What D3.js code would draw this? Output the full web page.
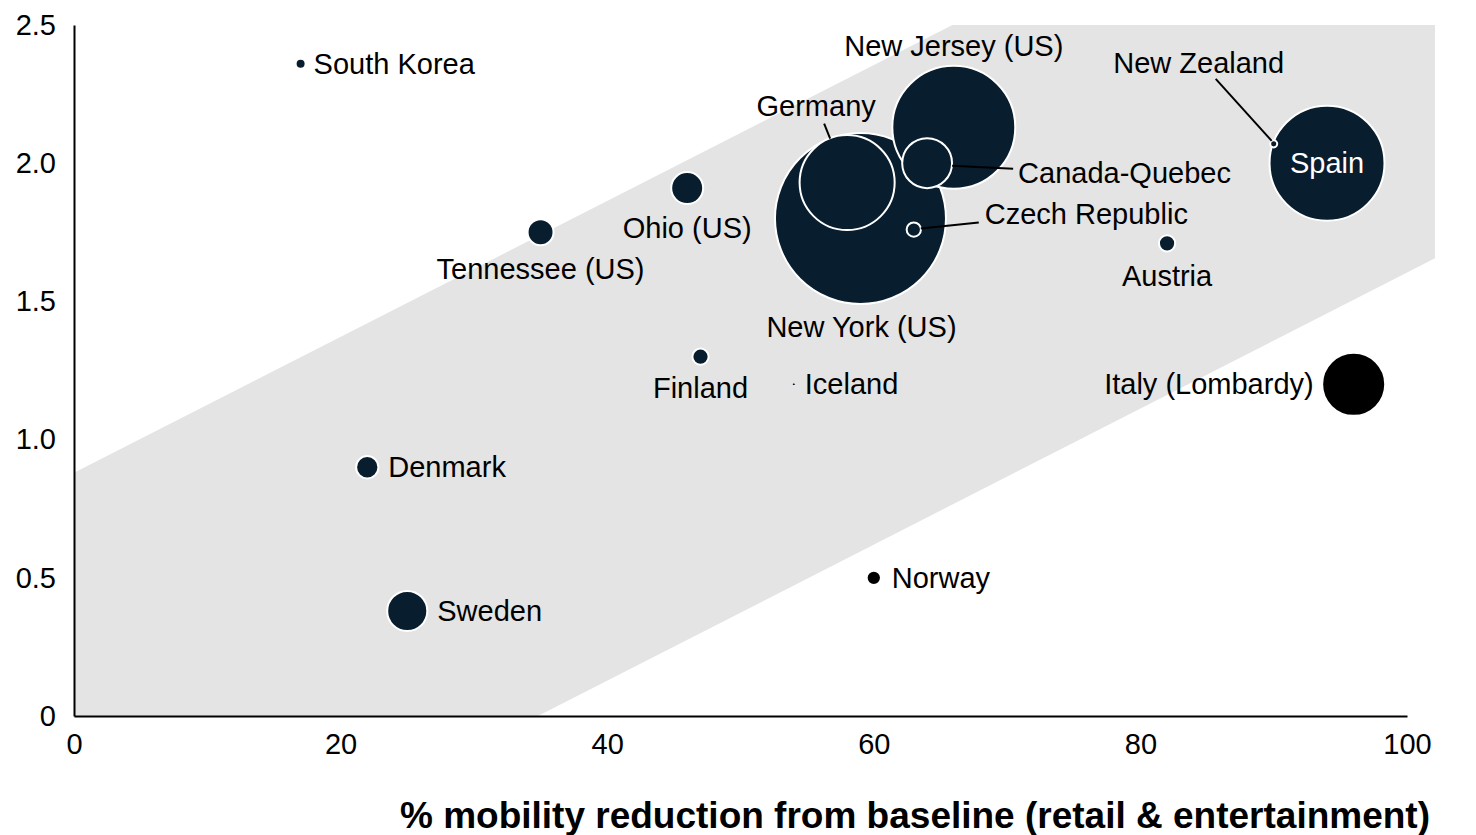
<!DOCTYPE html>
<html>
<head>
<meta charset="utf-8" />
<title></title>
<style>
html, body {
    padding: 0px;
    margin: 0px;
    background: #fff;
}
svg text {
    font-family: "Liberation Sans", Arial, sans-serif;
}
</style>
</head>
<body>
<svg id="chart" width="1476" height="835"></svg>

<script src="https://cdnjs.cloudflare.com/ajax/libs/d3/7.8.5/d3.min.js"></script>
<script>
!(function(){
    "use strict";

    // data
    var names = ["New York (US)", "New Jersey (US)", "Spain", "Germany", "Italy (Lombardy)",
        "Canada-Quebec", "Sweden", "Ohio (US)", "Tennessee (US)", "Denmark", "Finland",
        "Austria", "Norway", "Czech Republic", "South Korea", "New Zealand", "Iceland"];
    var mobility = [59, 66, 94, 58, 96, 64, 25, 46, 35, 22, 47, 82, 60, 63, 17, 90, 54];
    var rt = [1.80, 2.13, 2.00, 1.93, 1.20, 2.00, 0.38, 1.91, 1.75, 0.90, 1.30, 1.71, 0.50, 1.76, 2.36, 2.07, 1.20];
    var size = [1000, 517, 452, 309, 136, 85, 55, 35, 23, 17, 9, 9, 7, 7, 3.4, 1.7, 0.3];
    var xTicks = [0, 20, 40, 60, 80, 100];
    var yTicks = [0, 0.5, 1.0, 1.5, 2.0, 2.5];
    var yTickLabels = ["0", "0.5", "1.0", "1.5", "2.0", "2.5"];
    // shaded band corners (x, y)
    var bandX = [0, 0, 65.9, 102.1, 102.1, 34.8];
    var bandY = [0, 0.88, 2.5, 2.5, 1.656, 0];
    var xTitle = "% mobility reduction from baseline (retail & entertainment)";

    // label placement: [anchor, dx, dy, leader]
    var place = {
        "South Korea": ["start", 13, 0],
        "Tennessee (US)": ["middle", 0, 37],
        "Ohio (US)": ["middle", 0, 40],
        "Finland": ["middle", 0, 31],
        "Iceland": ["start", 11, 0],
        "Denmark": ["start", 21, 0],
        "Sweden": ["start", 30, 0],
        "Norway": ["start", 18, 0],
        "New York (US)": ["middle", 1, 108],
        "Germany": ["middle", -31, -77, [-17, -44, -23, -59]],
        "New Jersey (US)": ["middle", 0, -81],
        "Canada-Quebec": ["start", 91, 10, [25, 2.5, 86, 5.5]],
        "Czech Republic": ["start", 71, -16, [7, -1, 65, -7]],
        "New Zealand": ["middle", -75, -81, [-2, -3, -58, -65]],
        "Austria": ["middle", 0, 32],
        "Italy (Lombardy)": ["end", -40, 0],
        "Spain": ["middle", 0, 0]
    };

    var navy = "#081d2d";
    var labelSize = 29;

    var svg = d3.select("#chart");

    var x = d3.scaleLinear().domain([0, 100]).range([74, 1407]);
    var y = d3.scaleLinear().domain([0, 2.5]).range([716, 25]);
    var r = d3.scaleSqrt().domain([0, 1000]).range([0, 85.5]);

    var data = names.map(function(n, i) {
        return {name: n, x: mobility[i], y: rt[i], s: size[i]};
    });

    // band
    var band = bandX.map(function(v, i) { return [x(v), y(bandY[i])]; });
    svg.append("path")
        .attr("d", d3.line()(band) + "Z")
        .attr("fill", "#e4e4e4");

    // axes
    var xAxis = d3.axisBottom(x).tickValues(xTicks).tickSize(0).tickPadding(17);
    var yAxis = d3.axisLeft(y).tickValues(yTicks).tickSize(0).tickPadding(18)
        .tickFormat(function(d, i) { return yTickLabels[i]; });

    var gx = svg.append("g").attr("transform", "translate(0," + y(0) + ")").call(xAxis);
    var gy = svg.append("g").attr("transform", "translate(" + x(0) + ",0)").call(yAxis);

    [gx, gy].forEach(function(g) {
        g.select(".domain").attr("stroke", "#000").attr("stroke-width", 2);
        g.selectAll("text")
            .attr("font-family", "Liberation Sans, Arial, sans-serif")
            .attr("font-size", 29)
            .attr("fill", "#000");
    });
    gx.selectAll("text").attr("dy", "0.71em");

    svg.append("text")
        .attr("x", 1430)
        .attr("y", 828)
        .attr("text-anchor", "end")
        .attr("font-size", 37)
        .attr("font-weight", "bold")
        .attr("fill", "#000")
        .text(xTitle);

    // bubbles, biggest first
    var sorted = data.slice().sort(function(a, b) { return b.s - a.s; });

    svg.append("g").selectAll("circle")
        .data(sorted)
        .enter()
        .append("circle")
        .attr("cx", function(d) { return x(d.x); })
        .attr("cy", function(d) { return y(d.y); })
        .attr("r", function(d) { return r(d.s); })
        .attr("fill", function(d) {
            return (d.name === "Italy (Lombardy)" || d.name === "Norway") ? "#000" : navy;
        })
        .attr("stroke", "#fff")
        .attr("stroke-width", function(d) { return r(d.s) > 3 ? 2 : 1; });

    // leader lines
    data.forEach(function(d) {
        var p = place[d.name];
        if (!p[3]) return;
        var cx = x(d.x), cy = y(d.y), l = p[3];
        svg.append("line")
            .attr("x1", cx + l[0]).attr("y1", cy + l[1])
            .attr("x2", cx + l[2]).attr("y2", cy + l[3])
            .attr("stroke", "#000")
            .attr("stroke-width", 2);
    });

    // labels
    svg.append("g").selectAll("text")
        .data(data)
        .enter()
        .append("text")
        .attr("x", function(d) { return x(d.x) + place[d.name][1]; })
        .attr("y", function(d) { return y(d.y) + place[d.name][2]; })
        .attr("dy", "0.35em")
        .attr("text-anchor", function(d) { return place[d.name][0]; })
        .attr("font-size", labelSize)
        .attr("fill", function(d) { return d.name === "Spain" ? "#fff" : "#000"; })
        .text(function(d) { return d.name; });

}());
</script>
</body>
</html>
